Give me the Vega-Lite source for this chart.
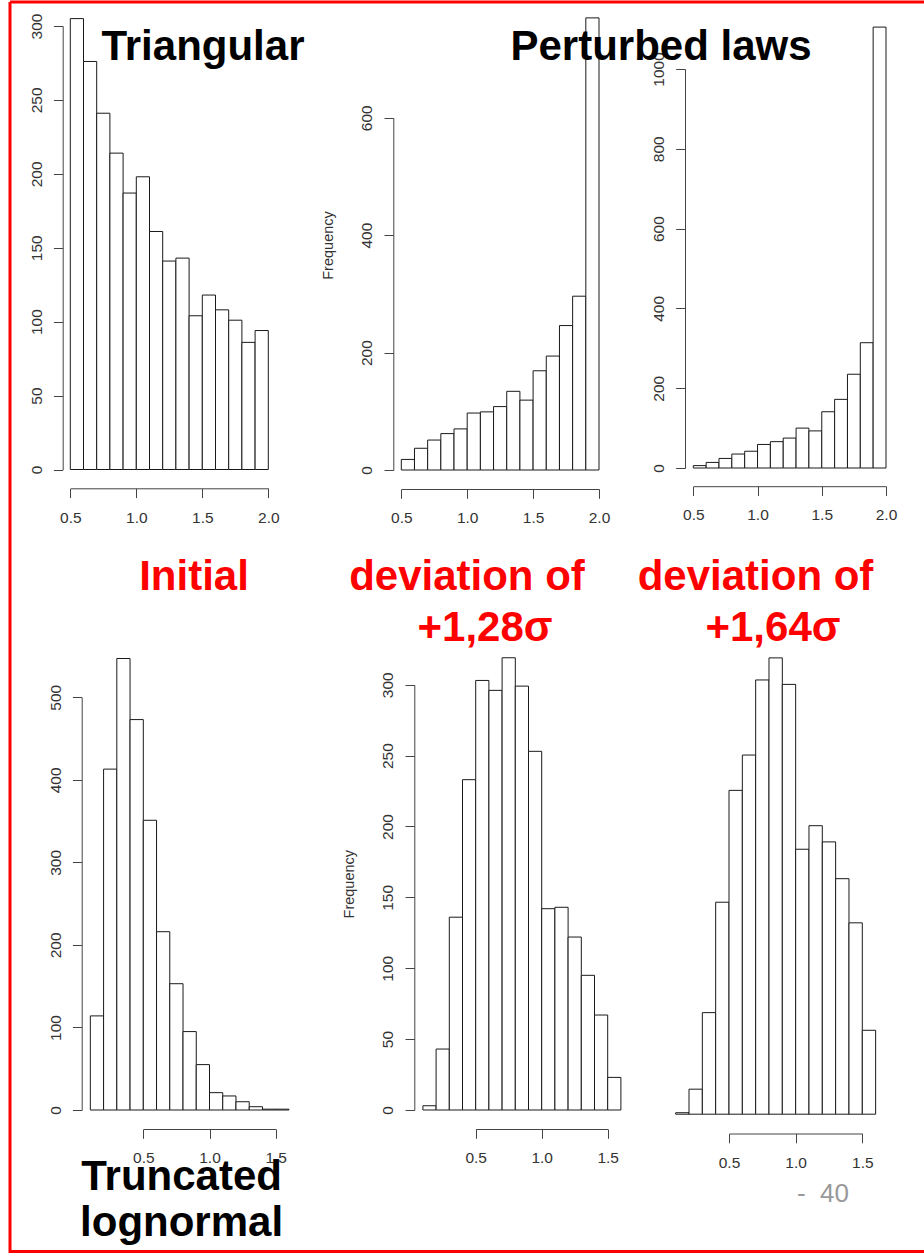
{
  "$schema": "https://vega.github.io/schema/vega-lite/v6.json",
  "autosize": {"type": "none"},
  "width": 917,
  "height": 1249.5,
  "padding": {"left": 10, "top": 2, "right": -3, "bottom": 1.5},
  "background": "white",
  "view": {"stroke": "#ff0000", "strokeWidth": 3, "fill": "white", "strokeDash": [917, 1249.5, 2166.5, 0]},
  "datasets": {
    "triangular": [
      {"lo": 0.5, "hi": 0.6, "n": 305}, {"lo": 0.6, "hi": 0.7, "n": 276}, {"lo": 0.7, "hi": 0.8, "n": 241},
      {"lo": 0.8, "hi": 0.9, "n": 214}, {"lo": 0.9, "hi": 1.0, "n": 187}, {"lo": 1.0, "hi": 1.1, "n": 198},
      {"lo": 1.1, "hi": 1.2, "n": 161}, {"lo": 1.2, "hi": 1.3, "n": 141}, {"lo": 1.3, "hi": 1.4, "n": 143},
      {"lo": 1.4, "hi": 1.5, "n": 104}, {"lo": 1.5, "hi": 1.6, "n": 118}, {"lo": 1.6, "hi": 1.7, "n": 108},
      {"lo": 1.7, "hi": 1.8, "n": 101}, {"lo": 1.8, "hi": 1.9, "n": 86}, {"lo": 1.9, "hi": 2.0, "n": 94}
    ],
    "triangular_128": [
      {"lo": 0.5, "hi": 0.6, "n": 18}, {"lo": 0.6, "hi": 0.7, "n": 37}, {"lo": 0.7, "hi": 0.8, "n": 51},
      {"lo": 0.8, "hi": 0.9, "n": 62}, {"lo": 0.9, "hi": 1.0, "n": 70}, {"lo": 1.0, "hi": 1.1, "n": 97},
      {"lo": 1.1, "hi": 1.2, "n": 99}, {"lo": 1.2, "hi": 1.3, "n": 108}, {"lo": 1.3, "hi": 1.4, "n": 134},
      {"lo": 1.4, "hi": 1.5, "n": 119}, {"lo": 1.5, "hi": 1.6, "n": 169}, {"lo": 1.6, "hi": 1.7, "n": 194},
      {"lo": 1.7, "hi": 1.8, "n": 246}, {"lo": 1.8, "hi": 1.9, "n": 296}, {"lo": 1.9, "hi": 2.0, "n": 770}
    ],
    "triangular_164": [
      {"lo": 0.5, "hi": 0.6, "n": 6}, {"lo": 0.6, "hi": 0.7, "n": 14}, {"lo": 0.7, "hi": 0.8, "n": 24},
      {"lo": 0.8, "hi": 0.9, "n": 35}, {"lo": 0.9, "hi": 1.0, "n": 42}, {"lo": 1.0, "hi": 1.1, "n": 59},
      {"lo": 1.1, "hi": 1.2, "n": 66}, {"lo": 1.2, "hi": 1.3, "n": 75}, {"lo": 1.3, "hi": 1.4, "n": 100},
      {"lo": 1.4, "hi": 1.5, "n": 93}, {"lo": 1.5, "hi": 1.6, "n": 141}, {"lo": 1.6, "hi": 1.7, "n": 172},
      {"lo": 1.7, "hi": 1.8, "n": 235}, {"lo": 1.8, "hi": 1.9, "n": 314}, {"lo": 1.9, "hi": 2.0, "n": 1105}
    ],
    "lognormal": [
      {"lo": 0.1, "hi": 0.2, "n": 114}, {"lo": 0.2, "hi": 0.3, "n": 413}, {"lo": 0.3, "hi": 0.4, "n": 547},
      {"lo": 0.4, "hi": 0.5, "n": 473}, {"lo": 0.5, "hi": 0.6, "n": 351}, {"lo": 0.6, "hi": 0.7, "n": 216},
      {"lo": 0.7, "hi": 0.8, "n": 153}, {"lo": 0.8, "hi": 0.9, "n": 95}, {"lo": 0.9, "hi": 1.0, "n": 55},
      {"lo": 1.0, "hi": 1.1, "n": 21}, {"lo": 1.1, "hi": 1.2, "n": 17}, {"lo": 1.2, "hi": 1.3, "n": 10},
      {"lo": 1.3, "hi": 1.4, "n": 4}, {"lo": 1.4, "hi": 1.5, "n": 1}, {"lo": 1.5, "hi": 1.6, "n": 1}
    ],
    "lognormal_128": [
      {"lo": 0.1, "hi": 0.2, "n": 3}, {"lo": 0.2, "hi": 0.3, "n": 43}, {"lo": 0.3, "hi": 0.4, "n": 136},
      {"lo": 0.4, "hi": 0.5, "n": 233}, {"lo": 0.5, "hi": 0.6, "n": 303}, {"lo": 0.6, "hi": 0.7, "n": 296},
      {"lo": 0.7, "hi": 0.8, "n": 319}, {"lo": 0.8, "hi": 0.9, "n": 299}, {"lo": 0.9, "hi": 1.0, "n": 253},
      {"lo": 1.0, "hi": 1.1, "n": 142}, {"lo": 1.1, "hi": 1.2, "n": 143}, {"lo": 1.2, "hi": 1.3, "n": 122},
      {"lo": 1.3, "hi": 1.4, "n": 95}, {"lo": 1.4, "hi": 1.5, "n": 67}, {"lo": 1.5, "hi": 1.6, "n": 23}
    ],
    "lognormal_164": [
      {"lo": 0.1, "hi": 0.2, "n": 1}, {"lo": 0.2, "hi": 0.3, "n": 17}, {"lo": 0.3, "hi": 0.4, "n": 69},
      {"lo": 0.4, "hi": 0.5, "n": 144}, {"lo": 0.5, "hi": 0.6, "n": 220}, {"lo": 0.6, "hi": 0.7, "n": 244},
      {"lo": 0.7, "hi": 0.8, "n": 295}, {"lo": 0.8, "hi": 0.9, "n": 310}, {"lo": 0.9, "hi": 1.0, "n": 292},
      {"lo": 1.0, "hi": 1.1, "n": 180}, {"lo": 1.1, "hi": 1.2, "n": 196}, {"lo": 1.2, "hi": 1.3, "n": 185},
      {"lo": 1.3, "hi": 1.4, "n": 160}, {"lo": 1.4, "hi": 1.5, "n": 130}, {"lo": 1.5, "hi": 1.6, "n": 57}
    ]
  },
  "resolve": {"scale": {"x": "independent", "y": "independent"}},
  "layer": [
    {
      "layer": [
        {
          "data": {"name": "triangular"},
          "mark": {"type": "rect", "fill": "white", "stroke": "#1a1a1a", "strokeWidth": 1},
          "encoding": {
            "x": {"field": "lo", "type": "quantitative",
                  "scale": {"domain": [0.5, 2], "range": [60.3, 258.3], "nice": false, "zero": false},
                  "axis": {"orient": "bottom", "values": [0.5, 1, 1.5, 2], "format": ".1f", "offset": -763.2, "title": null}},
            "x2": {"field": "hi"},
            "y": {"field": "n", "type": "quantitative",
                  "scale": {"domain": [0, 300], "range": [467.5, 24], "nice": false},
                  "axis": {"orient": "left", "values": [0, 50, 100, 150, 200, 250, 300], "format": "d", "offset": -52.7, "title": null}},
            "y2": {"datum": 0}
          }
        },
        {
          "data": {"values": [{"label": "Triangular"}]},
          "mark": {"type": "text", "font": "Liberation Sans", "fontSize": 42, "fontWeight": "bold", "color": "#000000", "align": "center", "baseline": "alphabetic"},
          "encoding": {
            "text": {"field": "label"},
            "x": {"datum": 1.505},
            "y": {"datum": 277}
          }
        }
      ]
    },
    {
      "layer": [
        {
          "data": {"name": "triangular_128"},
          "mark": {"type": "rect", "fill": "white", "stroke": "#1a1a1a", "strokeWidth": 1},
          "encoding": {
            "x": {"field": "lo", "type": "quantitative",
                  "scale": {"domain": [0.5, 2], "range": [391.3, 589], "nice": false, "zero": false},
                  "axis": {"orient": "bottom", "values": [0.5, 1, 1.5, 2], "format": ".1f", "offset": -762.5, "title": null}},
            "x2": {"field": "hi"},
            "y": {"field": "n", "type": "quantitative",
                  "scale": {"domain": [0, 600], "range": [468, 115.7], "nice": false},
                  "axis": {"orient": "left", "values": [0, 200, 400, 600], "format": "d", "offset": -383.3,
                           "title": "Frequency", "titleX": -61.3, "titleY": 243, "titleAngle": -90,
                           "titleAlign": "center", "titleBaseline": "alphabetic"}},
            "y2": {"datum": 0}
          }
        }
      ]
    },
    {
      "layer": [
        {
          "data": {"name": "triangular_164"},
          "mark": {"type": "rect", "fill": "white", "stroke": "#1a1a1a", "strokeWidth": 1},
          "encoding": {
            "x": {"field": "lo", "type": "quantitative",
                  "scale": {"domain": [0.5, 2], "range": [683.3, 876], "nice": false, "zero": false},
                  "axis": {"orient": "bottom", "values": [0.5, 1, 1.5, 2], "format": ".1f", "offset": -765.3, "title": null}},
            "x2": {"field": "hi"},
            "y": {"field": "n", "type": "quantitative",
                  "scale": {"domain": [0, 1000], "range": [466, 67], "nice": false},
                  "axis": {"orient": "left", "values": [0, 200, 400, 600, 800, 1000], "format": "d", "offset": -675, "title": null}},
            "y2": {"datum": 0}
          }
        },
        {
          "data": {"values": [{"label": "Perturbed laws"}]},
          "mark": {"type": "text", "font": "Liberation Sans", "fontSize": 42, "fontWeight": "bold", "color": "#000000", "align": "center", "baseline": "alphabetic"},
          "encoding": {
            "text": {"field": "label"},
            "x": {"datum": 0.2486},
            "y": {"datum": 1022.6}
          }
        }
      ]
    },
    {
      "layer": [
        {
          "data": {"name": "lognormal"},
          "mark": {"type": "rect", "fill": "white", "stroke": "#1a1a1a", "strokeWidth": 1},
          "encoding": {
            "x": {"field": "lo", "type": "quantitative",
                  "scale": {"domain": [0.5, 1.5], "range": [133.3, 265.7], "nice": false, "zero": false},
                  "axis": {"orient": "bottom", "values": [0.5, 1, 1.5], "format": ".1f", "offset": -122.5, "title": null}},
            "x2": {"field": "hi"},
            "y": {"field": "n", "type": "quantitative",
                  "scale": {"domain": [0, 500], "range": [1108, 695.3], "nice": false},
                  "axis": {"orient": "left", "values": [0, 100, 200, 300, 400, 500], "format": "d", "offset": -71.7, "title": null}},
            "y2": {"datum": 0}
          }
        },
        {
          "data": {"values": [{"label": "Initial"}]},
          "mark": {"type": "text", "font": "Liberation Sans", "fontSize": 42, "fontWeight": "bold", "color": "#ff0000", "align": "center", "baseline": "alphabetic"},
          "encoding": {
            "text": {"field": "label"},
            "x": {"datum": 0.883},
            "y": {"datum": 630}
          }
        },
        {
          "data": {"values": [{"label": "Truncated"}]},
          "mark": {"type": "text", "font": "Liberation Sans", "fontSize": 42, "fontWeight": "bold", "color": "#000000", "align": "center", "baseline": "alphabetic"},
          "encoding": {
            "text": {"field": "label"},
            "x": {"datum": 0.789},
            "y": {"datum": -97.5}
          }
        },
        {
          "data": {"values": [{"label": "lognormal"}]},
          "mark": {"type": "text", "font": "Liberation Sans", "fontSize": 42, "fontWeight": "bold", "color": "#000000", "align": "center", "baseline": "alphabetic"},
          "encoding": {
            "text": {"field": "label"},
            "x": {"datum": 0.789},
            "y": {"datum": -152.7}
          }
        }
      ]
    },
    {
      "layer": [
        {
          "data": {"name": "lognormal_128"},
          "mark": {"type": "rect", "fill": "white", "stroke": "#1a1a1a", "strokeWidth": 1},
          "encoding": {
            "x": {"field": "lo", "type": "quantitative",
                  "scale": {"domain": [0.5, 1.5], "range": [465.7, 597.7], "nice": false, "zero": false},
                  "axis": {"orient": "bottom", "values": [0.5, 1, 1.5], "format": ".1f", "offset": -122.5, "title": null}},
            "x2": {"field": "hi"},
            "y": {"field": "n", "type": "quantitative",
                  "scale": {"domain": [0, 300], "range": [1108, 682.7], "nice": false},
                  "axis": {"orient": "left", "values": [0, 50, 100, 150, 200, 250, 300], "format": "d", "offset": -404.3,
                           "title": "Frequency", "titleX": -60.6, "titleY": 881.7, "titleAngle": -90,
                           "titleAlign": "center", "titleBaseline": "alphabetic"}},
            "y2": {"datum": 0}
          }
        },
        {
          "data": {"values": [{"label": "deviation of"}]},
          "mark": {"type": "text", "font": "Liberation Sans", "fontSize": 42, "fontWeight": "bold", "color": "#ff0000", "align": "center", "baseline": "alphabetic"},
          "encoding": {
            "text": {"field": "label"},
            "x": {"datum": 0.434},
            "y": {"datum": 366.8}
          }
        },
        {
          "data": {"values": [{"label": "+1,28σ"}]},
          "mark": {"type": "text", "font": "Liberation Sans", "fontSize": 42, "fontWeight": "bold", "color": "#ff0000", "align": "center", "baseline": "alphabetic"},
          "encoding": {
            "text": {"field": "label"},
            "x": {"datum": 0.5705},
            "y": {"datum": 330.8}
          }
        }
      ]
    },
    {
      "layer": [
        {
          "data": {"name": "lognormal_164"},
          "mark": {"type": "rect", "fill": "white", "stroke": "#1a1a1a", "strokeWidth": 1},
          "encoding": {
            "x": {"field": "lo", "type": "quantitative",
                  "scale": {"domain": [0.5, 1.5], "range": [719, 852.3], "nice": false, "zero": false},
                  "axis": {"orient": "bottom", "values": [0.5, 1, 1.5], "format": ".1f", "offset": -118, "title": null}},
            "x2": {"field": "hi"},
            "y": {"field": "n", "type": "quantitative",
                  "scale": {"domain": [0, 300], "range": [1112.2, 670.6], "nice": false},
                  "axis": null},
            "y2": {"datum": 0}
          }
        },
        {
          "data": {"values": [{"label": "deviation of"}]},
          "mark": {"type": "text", "font": "Liberation Sans", "fontSize": 42, "fontWeight": "bold", "color": "#ff0000", "align": "center", "baseline": "alphabetic"},
          "encoding": {
            "text": {"field": "label"},
            "x": {"datum": 0.699},
            "y": {"datum": 356.1}
          }
        },
        {
          "data": {"values": [{"label": "+1,64σ"}]},
          "mark": {"type": "text", "font": "Liberation Sans", "fontSize": 42, "fontWeight": "bold", "color": "#ff0000", "align": "center", "baseline": "alphabetic"},
          "encoding": {
            "text": {"field": "label"},
            "x": {"datum": 0.83},
            "y": {"datum": 321.5}
          }
        },
        {
          "data": {"values": [{"label": "-\u00a0\u00a040"}]},
          "mark": {"type": "text", "font": "Liberation Sans", "fontSize": 26, "color": "#999999", "align": "left", "baseline": "alphabetic"},
          "encoding": {
            "text": {"field": "label"},
            "x": {"datum": 1.01},
            "y": {"datum": -59.6}
          }
        }
      ]
    }
  ],
  "config": {
    "axis": {
      "grid": false,
      "labelFont": "Liberation Sans",
      "labelFontSize": 15.5,
      "labelColor": "#333333",
      "tickColor": "#444444",
      "domainColor": "#444444",
      "tickSize": 9.3,
      "tickWidth": 1,
      "domainWidth": 1,
      "labelFlush": false,
      "labelOverlap": false,
      "labelBound": false,
      "titleFont": "Liberation Sans",
      "titleFontWeight": "normal",
      "titleFontSize": 14.5,
      "titleColor": "#333333"
    },
    "axisX": {"labelPadding": 19.4, "labelBaseline": "middle", "labelAngle": 0},
    "axisY": {"labelPadding": 17.3, "labelAngle": -90, "labelAlign": "center", "labelBaseline": "middle"}
  }
}
